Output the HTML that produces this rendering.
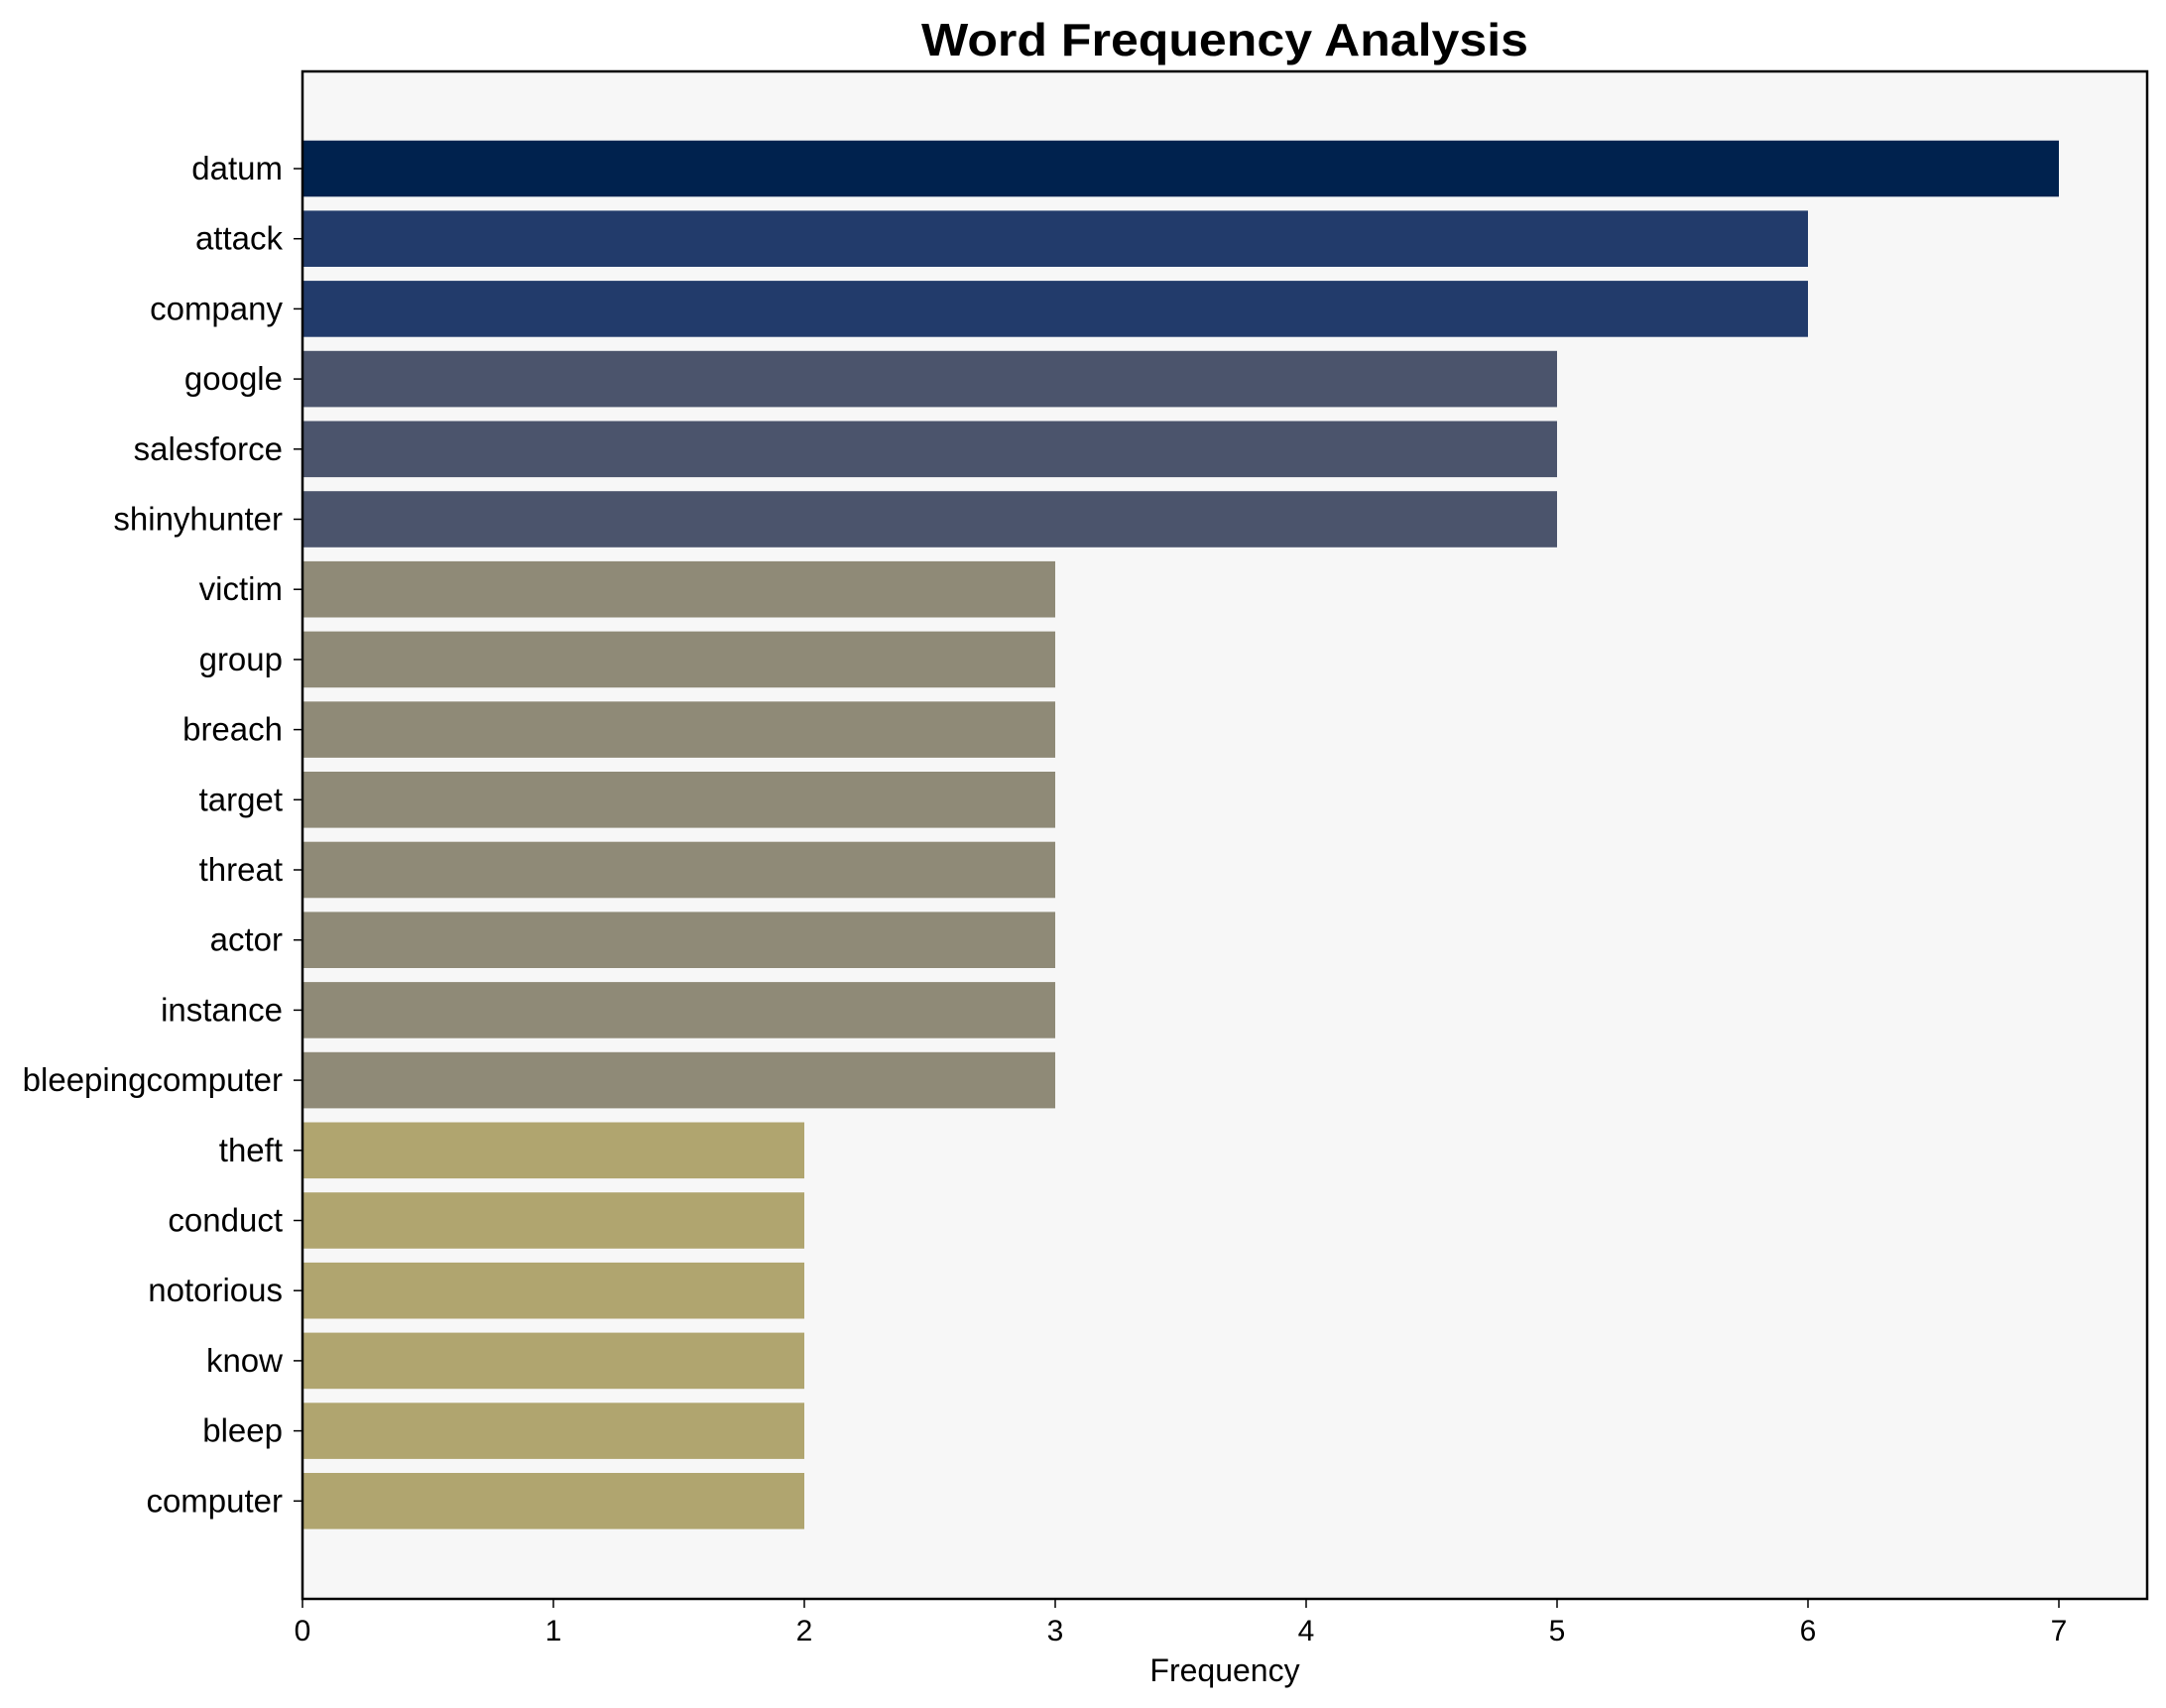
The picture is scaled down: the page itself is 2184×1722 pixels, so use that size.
<!DOCTYPE html>
<html><head><meta charset="utf-8"><style>
html,body{margin:0;padding:0;background:#fff;}
svg{display:block;}
text{font-family:"Liberation Sans",Arial,sans-serif;fill:#000;}
</style></head><body>
<svg width="2184" height="1722" viewBox="0 0 2184 1722" xmlns="http://www.w3.org/2000/svg">
<rect x="0" y="0" width="2184" height="1722" fill="#fff"/>
<rect x="305" y="72" width="1860" height="1540" fill="#f7f7f7"/>
<text x="1235" y="56" font-size="46" font-weight="bold" text-anchor="middle" textLength="612" lengthAdjust="spacingAndGlyphs">Word Frequency Analysis</text>
<text x="1235" y="1695" font-size="32" text-anchor="middle">Frequency</text>
<g font-size="30" text-anchor="middle">
<line x1="305" y1="1612" x2="305" y2="1621" stroke="#000" stroke-width="1.5"/><text x="305" y="1654">0</text>
<line x1="558" y1="1612" x2="558" y2="1621" stroke="#000" stroke-width="1.5"/><text x="558" y="1654">1</text>
<line x1="811" y1="1612" x2="811" y2="1621" stroke="#000" stroke-width="1.5"/><text x="811" y="1654">2</text>
<line x1="1064" y1="1612" x2="1064" y2="1621" stroke="#000" stroke-width="1.5"/><text x="1064" y="1654">3</text>
<line x1="1317" y1="1612" x2="1317" y2="1621" stroke="#000" stroke-width="1.5"/><text x="1317" y="1654">4</text>
<line x1="1570" y1="1612" x2="1570" y2="1621" stroke="#000" stroke-width="1.5"/><text x="1570" y="1654">5</text>
<line x1="1823" y1="1612" x2="1823" y2="1621" stroke="#000" stroke-width="1.5"/><text x="1823" y="1654">6</text>
<line x1="2076" y1="1612" x2="2076" y2="1621" stroke="#000" stroke-width="1.5"/><text x="2076" y="1654">7</text>
</g>
<g font-size="33" text-anchor="end">
<rect x="305" y="141.7" width="1771" height="56.6" fill="#00224e"/><line x1="296" y1="170" x2="305" y2="170" stroke="#000" stroke-width="1.5"/><text x="285" y="181">datum</text>
<rect x="305" y="212.4" width="1518" height="56.6" fill="#223b6b"/><line x1="296" y1="240.7" x2="305" y2="240.7" stroke="#000" stroke-width="1.5"/><text x="285" y="251.7">attack</text>
<rect x="305" y="283.1" width="1518" height="56.6" fill="#223b6b"/><line x1="296" y1="311.4" x2="305" y2="311.4" stroke="#000" stroke-width="1.5"/><text x="285" y="322.4">company</text>
<rect x="305" y="353.8" width="1265" height="56.6" fill="#4b546c"/><line x1="296" y1="382.1" x2="305" y2="382.1" stroke="#000" stroke-width="1.5"/><text x="285" y="393.1">google</text>
<rect x="305" y="424.5" width="1265" height="56.6" fill="#4b546c"/><line x1="296" y1="452.8" x2="305" y2="452.8" stroke="#000" stroke-width="1.5"/><text x="285" y="463.8">salesforce</text>
<rect x="305" y="495.2" width="1265" height="56.6" fill="#4b546c"/><line x1="296" y1="523.5" x2="305" y2="523.5" stroke="#000" stroke-width="1.5"/><text x="285" y="534.5">shinyhunter</text>
<rect x="305" y="565.9" width="759" height="56.6" fill="#8f8a77"/><line x1="296" y1="594.2" x2="305" y2="594.2" stroke="#000" stroke-width="1.5"/><text x="285" y="605.2">victim</text>
<rect x="305" y="636.6" width="759" height="56.6" fill="#8f8a77"/><line x1="296" y1="664.9" x2="305" y2="664.9" stroke="#000" stroke-width="1.5"/><text x="285" y="675.9">group</text>
<rect x="305" y="707.3" width="759" height="56.6" fill="#8f8a77"/><line x1="296" y1="735.6" x2="305" y2="735.6" stroke="#000" stroke-width="1.5"/><text x="285" y="746.6">breach</text>
<rect x="305" y="778" width="759" height="56.6" fill="#8f8a77"/><line x1="296" y1="806.3" x2="305" y2="806.3" stroke="#000" stroke-width="1.5"/><text x="285" y="817.3">target</text>
<rect x="305" y="848.7" width="759" height="56.6" fill="#8f8a77"/><line x1="296" y1="877" x2="305" y2="877" stroke="#000" stroke-width="1.5"/><text x="285" y="888">threat</text>
<rect x="305" y="919.4" width="759" height="56.6" fill="#8f8a77"/><line x1="296" y1="947.7" x2="305" y2="947.7" stroke="#000" stroke-width="1.5"/><text x="285" y="958.7">actor</text>
<rect x="305" y="990.1" width="759" height="56.6" fill="#8f8a77"/><line x1="296" y1="1018.4" x2="305" y2="1018.4" stroke="#000" stroke-width="1.5"/><text x="285" y="1029.4">instance</text>
<rect x="305" y="1060.8" width="759" height="56.6" fill="#8f8a77"/><line x1="296" y1="1089.1" x2="305" y2="1089.1" stroke="#000" stroke-width="1.5"/><text x="285" y="1100.1">bleepingcomputer</text>
<rect x="305" y="1131.5" width="506" height="56.6" fill="#b0a56f"/><line x1="296" y1="1159.8" x2="305" y2="1159.8" stroke="#000" stroke-width="1.5"/><text x="285" y="1170.8">theft</text>
<rect x="305" y="1202.2" width="506" height="56.6" fill="#b0a56f"/><line x1="296" y1="1230.5" x2="305" y2="1230.5" stroke="#000" stroke-width="1.5"/><text x="285" y="1241.5">conduct</text>
<rect x="305" y="1272.9" width="506" height="56.6" fill="#b0a56f"/><line x1="296" y1="1301.2" x2="305" y2="1301.2" stroke="#000" stroke-width="1.5"/><text x="285" y="1312.2">notorious</text>
<rect x="305" y="1343.6" width="506" height="56.6" fill="#b0a56f"/><line x1="296" y1="1371.9" x2="305" y2="1371.9" stroke="#000" stroke-width="1.5"/><text x="285" y="1382.9">know</text>
<rect x="305" y="1414.3" width="506" height="56.6" fill="#b0a56f"/><line x1="296" y1="1442.6" x2="305" y2="1442.6" stroke="#000" stroke-width="1.5"/><text x="285" y="1453.6">bleep</text>
<rect x="305" y="1485" width="506" height="56.6" fill="#b0a56f"/><line x1="296" y1="1513.3" x2="305" y2="1513.3" stroke="#000" stroke-width="1.5"/><text x="285" y="1524.3">computer</text>
</g>
<rect x="305" y="72" width="1860" height="1540" fill="none" stroke="#000" stroke-width="2.5"/>
</svg>
</body></html>
